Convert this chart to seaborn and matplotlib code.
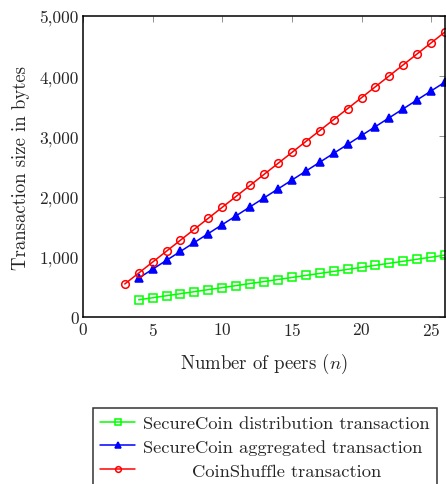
import matplotlib
matplotlib.use("Agg")
import matplotlib.pyplot as plt
import matplotlib.ticker as mticker
import pandas as pd
import seaborn as sns

# values
peers_shuffle = list(range(3, 27))
coinshuffle = [550, 732, 914, 1096, 1278, 1460, 1642, 1824, 2006, 2188, 2370, 2552,
               2734, 2916, 3098, 3280, 3462, 3644, 3826, 4008, 4190, 4372, 4554, 4736]
peers_secure = list(range(4, 27))
aggregated = [648, 796, 944, 1092, 1240, 1388, 1536, 1684, 1832, 1980, 2128, 2276,
              2424, 2572, 2720, 2868, 3016, 3164, 3312, 3460, 3608, 3756, 3904]
distribution = [288, 322, 356, 389, 423, 457, 490, 524, 558, 591, 625, 659,
                693, 726, 760, 794, 827, 861, 895, 928, 962, 996, 1030]

labels = ["SecureCoin distribution transaction",
          "SecureCoin aggregated transaction",
          "CoinShuffle transaction"]

sns.set_style("white")
plt.rcParams["font.family"] = ["cmr10", "DejaVu Serif"]
plt.rcParams["mathtext.fontset"] = "cm"
plt.rcParams["axes.formatter.use_mathtext"] = True

fig = plt.figure(figsize=(4.46, 4.85), dpi=100)
ax = fig.add_axes([0.186, 0.344, 0.812, 0.621])

series = [
    (peers_secure, distribution, "#00ff00", "s", "none", labels[0]),
    (peers_secure, aggregated, "#0000ff", "^", "#0000ff", labels[1]),
    (peers_shuffle, coinshuffle, "#ff0000", "o", "none", labels[2]),
]
for xs, ys, col, mk, fc, lab in series:
    df = pd.DataFrame({"n": xs, "size": ys})
    sns.lineplot(data=df, x="n", y="size", ax=ax, color=col, marker=mk,
                 markerfacecolor=fc, markeredgecolor=col, markeredgewidth=1.1,
                 markersize=5.5, linewidth=1.1, label=lab)

ax.set_xlim(0, 26)
ax.set_ylim(0, 5000)
ax.set_xticks([0, 5, 10, 15, 20, 25])
ax.set_yticks([0, 1000, 2000, 3000, 4000, 5000])
ax.yaxis.set_major_formatter(mticker.FuncFormatter(lambda v, p: f"{int(v):,}"))
ax.tick_params(direction="in", length=4, width=0.6, color="#808080",
               top=True, right=True, labelsize=12.5, pad=3)
for sp in ax.spines.values():
    sp.set_linewidth(1.1)
    sp.set_color("black")

ax.set_xlabel("Number of peers ($n$)", fontsize=13.5, labelpad=9)
ax.set_ylabel("Transaction size in bytes", fontsize=13.5, labelpad=7)

# legend text centred inside the box as in pgfplots
leg = fig.legend(loc="upper left", bbox_to_anchor=(0.2085, 0.157), ncol=1,
                 fontsize=13.3, frameon=True, fancybox=False, handlelength=1.9,
                 handletextpad=0.4, labelspacing=0.42, borderpad=0.4,
                 borderaxespad=0, markerscale=0.75)
ax.get_legend().remove()
leg.get_frame().set_edgecolor("black")
leg.get_frame().set_linewidth(1.1)
leg.texts[2].set_text("        CoinShuffle transaction")

fig.savefig("out.png", dpi=100)
